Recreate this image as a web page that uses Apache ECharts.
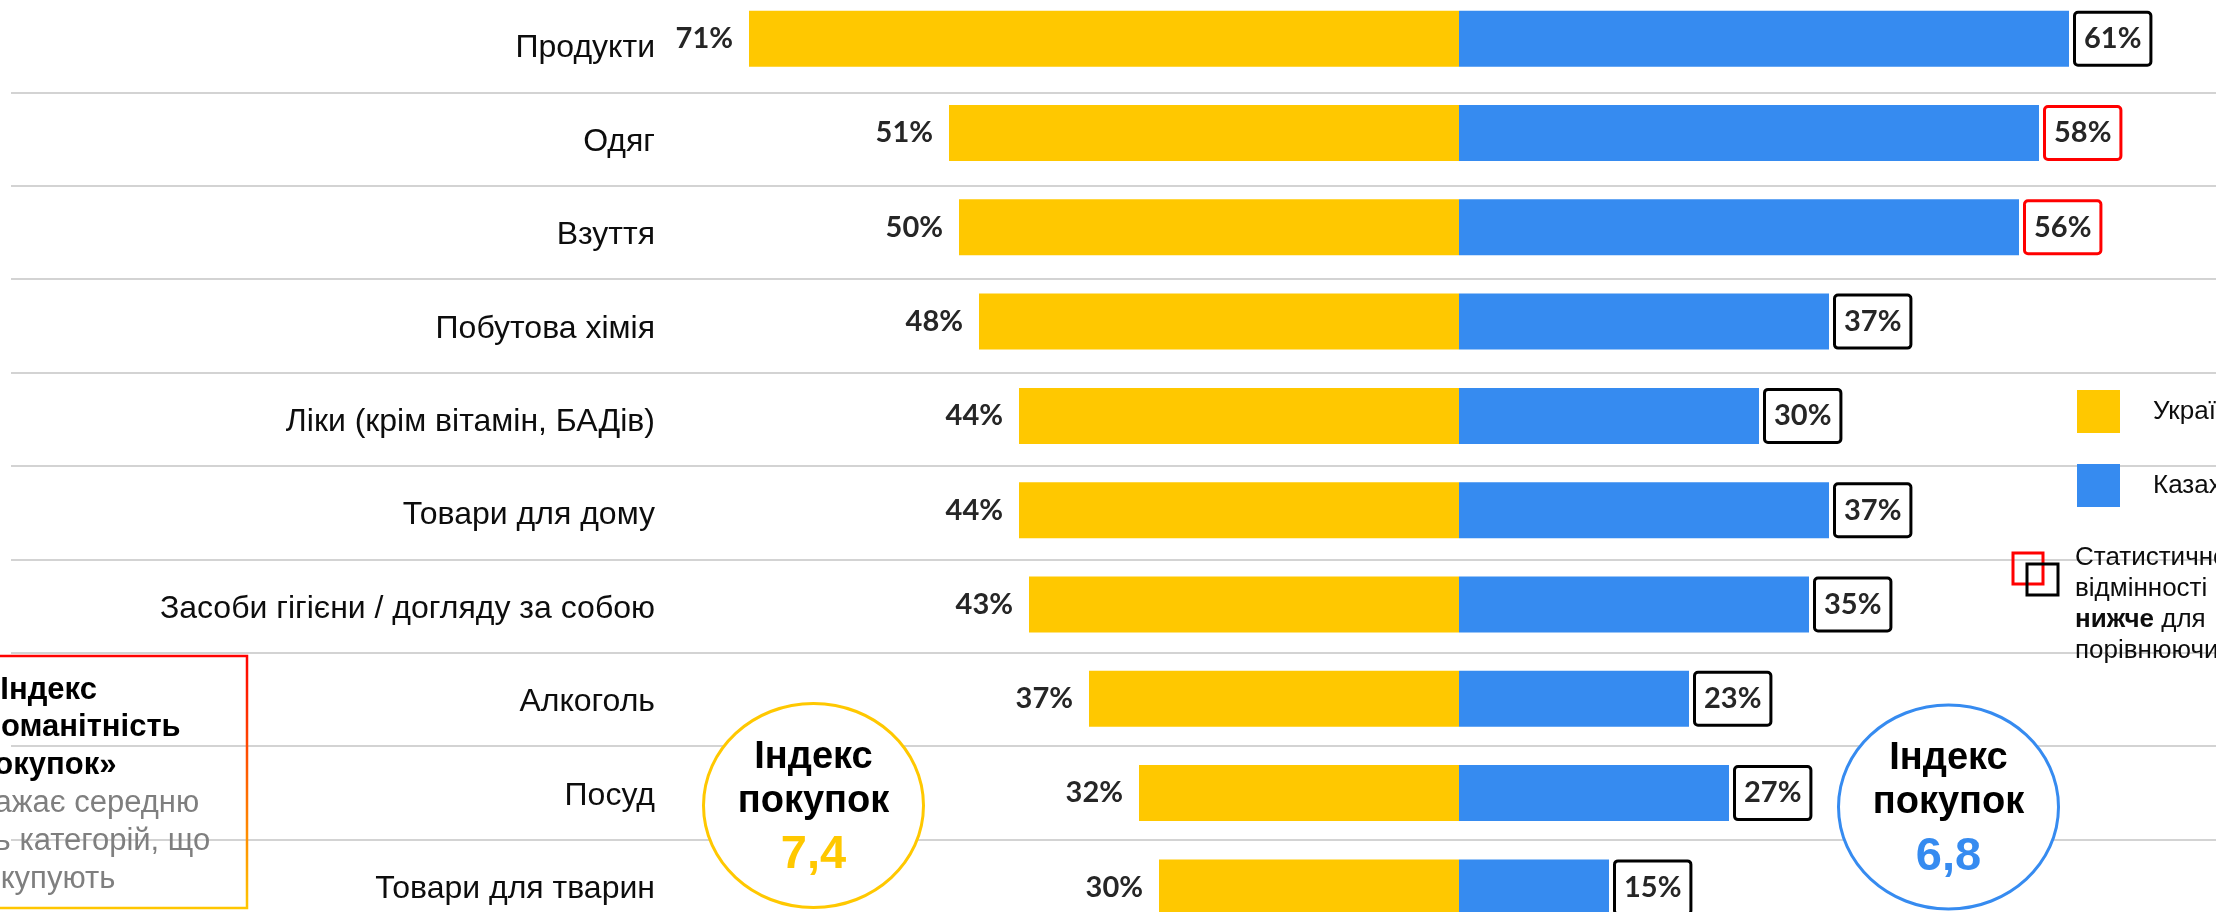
<!DOCTYPE html>
<html>
<head>
<meta charset="utf-8">
<title>Категорії покупок</title>
<script src="https://cdn.jsdelivr.net/npm/echarts@6/dist/echarts.min.js"></script>
<style>
  html, body { margin: 0; padding: 0; background: #fff; overflow: hidden; }
  #chart { width: 2216px; height: 912px; }
</style>
</head>
<body>
<div id="chart"></div>
<script>
const categories = [
  "Продукти",
  "Одяг",
  "Взуття",
  "Побутова хімія",
  "Ліки (крім вітамін, БАДів)",
  "Товари для дому",
  "Засоби гігієни / догляду за собою",
  "Алкоголь",
  "Посуд",
  "Товари для тварин",
];
const seriesNames = ["Україна", "Казахстан"];
const uaValues = [71, 51, 50, 48, 44, 44, 43, 37, 32, 30];
const kzValues = [61, 58, 56, 37, 30, 37, 35, 23, 27, 15];
// значущість різниці для Казахстану: higher - червона рамка, lower - чорна
const kzSignificance = ["lower", "higher", "higher", "lower", "lower", "lower", "lower", "lower", "lower", "lower"];
const uaIndex = "7,4";
const kzIndex = "6,8";
const noteLines = ["«Індекс", "різноманітність", "покупок»", "відображає середню", "кількість категорій, що", "купують"];
const sigLegendLines = ["Статистично значущі", "відмінності вище /", "{b|нижче} для", "порівнюючих груп"];

const YELLOW = "#ffc800";
const BLUE = "#368bf0";
const LABEL_FONT = "Lato";
const TEXT_FONT = "Liberation Sans";

const myChart = echarts.init(document.getElementById("chart"));

function indexCircle(cx, cy, color, value) {
  return [
    {
      type: "ellipse",
      z: 10,
      shape: { cx: cx, cy: cy, rx: 110, ry: 102 },
      style: { fill: "#fff", stroke: color, lineWidth: 3 },
    },
    {
      type: "text",
      z: 11,
      x: cx,
      y: cy - 48,
      style: { text: "Індекс", fill: "#000", font: "bold 38px " + TEXT_FONT, align: "center", verticalAlign: "middle" },
    },
    {
      type: "text",
      z: 11,
      x: cx,
      y: cy - 4,
      style: { text: "покупок", fill: "#000", font: "bold 38px " + TEXT_FONT, align: "center", verticalAlign: "middle" },
    },
    {
      type: "text",
      z: 11,
      x: cx,
      y: cy + 50,
      style: { text: value, fill: color, font: "bold 47px " + TEXT_FONT, align: "center", verticalAlign: "middle" },
    },
  ];
}

let graphics = [];
// рамка з поясненням індексу
graphics.push({
  type: "rect",
  z: 10,
  shape: { x: -150, y: 656, width: 397, height: 252 },
  style: {
    fill: "none",
    lineWidth: 2.5,
    stroke: new echarts.graphic.LinearGradient(0, 0, 0, 1, [
      { offset: 0, color: "#ff0000" },
      { offset: 1, color: YELLOW },
    ]),
  },
});
const noteShift = [-10, 10, -4, 0, 0, 8];
noteLines.forEach((line, i) => {
  graphics.push({
    type: "text",
    z: 11,
    x: 50 + noteShift[i],
    y: 690 + i * 37.8,
    style: {
      text: line,
      fill: i < 3 ? "#000" : "#7f7f7f",
      font: (i < 3 ? "bold " : "") + "31px " + TEXT_FONT,
      align: "center",
      verticalAlign: "middle",
    },
  });
});
graphics = graphics.concat(indexCircle(813.5, 805.5, YELLOW, uaIndex));
graphics = graphics.concat(indexCircle(1948.5, 807, BLUE, kzIndex));
// легенда значущості
graphics.push({
  type: "rect",
  z: 10,
  shape: { x: 2013, y: 553, width: 30, height: 31 },
  style: { fill: "none", stroke: "#ff0000", lineWidth: 3 },
});
graphics.push({
  type: "rect",
  z: 11,
  shape: { x: 2027, y: 564, width: 31, height: 31 },
  style: { fill: "none", stroke: "#000", lineWidth: 3 },
});
graphics.push({
  type: "text",
  z: 11,
  x: 2075,
  y: 542,
  style: {
    text: sigLegendLines.join("\n"),
    fill: "#0d0d0d",
    font: "26px " + TEXT_FONT,
    lineHeight: 31,
    rich: { b: { fontWeight: "bold", fontSize: 26, fontFamily: TEXT_FONT, fill: "#0d0d0d", lineHeight: 31 } },
  },
});

const option = {
  animation: false,
  backgroundColor: "#fff",
  legend: {
    data: seriesNames,
    orient: "vertical",
    left: 2077,
    top: 390,
    padding: 0,
    itemWidth: 43,
    itemHeight: 43,
    itemGap: 31,
    icon: "rect",
    textStyle: {
      fontFamily: TEXT_FONT,
      fontSize: 26,
      color: "#0d0d0d",
      padding: [6, 0, 0, 28],
    },
  },
  grid: [
    // смуги
    { left: 11, width: 2205, top: -8.45, height: 943, outerBoundsMode: "none" },
    // підписи категорій і розділові лінії
    { left: 11, width: 2205, top: -1.1, height: 934, outerBoundsMode: "none" },
  ],
  xAxis: [
    { type: "value", gridIndex: 0, min: -144.8, max: 75.7, show: false },
    { type: "value", gridIndex: 1, min: 0, max: 1, show: false },
  ],
  yAxis: [
    {
      type: "category",
      gridIndex: 0,
      inverse: true,
      data: categories,
      show: false,
    },
    {
      type: "category",
      gridIndex: 1,
      inverse: true,
      data: categories,
      axisLine: { show: false },
      axisTick: { show: false },
      axisLabel: {
        margin: -644,
        fontFamily: TEXT_FONT,
        fontSize: 32,
        color: "#0d0d0d",
        verticalAlign: "top",
        lineHeight: 6,
      },
      splitLine: {
        show: true,
        lineStyle: { color: "#c4c4c4", width: 1.5 },
      },
    },
  ],
  series: [
    {
      name: seriesNames[0],
      type: "bar",
      barWidth: 56,
      barGap: "-100%",
      itemStyle: { color: YELLOW },
      data: uaValues.map((v) => -v),
      label: {
        show: true,
        position: "left",
        distance: 16,
        formatter: (p) => Math.abs(p.value) + "%",
        fontFamily: LABEL_FONT,
        fontWeight: "bold",
        fontSize: 29,
        color: "#262626",
      },
    },
    {
      name: seriesNames[1],
      type: "bar",
      barWidth: 56,
      barGap: "-100%",
      itemStyle: { color: BLUE },
      data: kzValues.map((v, i) => ({
        value: v,
        label: { borderColor: kzSignificance[i] === "higher" ? "#ff0000" : "#000" },
      })),
      label: {
        show: true,
        position: "right",
        distance: 7,
        formatter: "{c}%",
        fontFamily: LABEL_FONT,
        fontWeight: "bold",
        fontSize: 29,
        lineHeight: 30,
        color: "#262626",
        backgroundColor: "#fff",
        borderWidth: 3,
        borderRadius: 2,
        padding: [10, 8, 10, 8],
      },
    },
  ],
  graphic: graphics,
};
option && myChart.setOption(option);
</script>
</body>
</html>
